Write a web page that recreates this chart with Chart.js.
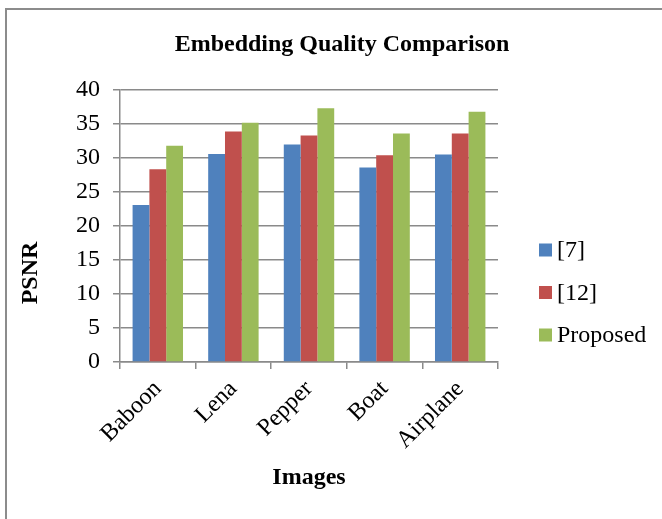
<!DOCTYPE html>
<html>
<head>
<meta charset="utf-8">
<script src="https://cdn.jsdelivr.net/npm/chart.js@4/dist/chart.umd.min.js"></script>
<style>
  html, body { margin: 0; padding: 0; background: #ffffff; }
  #wrap { position: relative; width: 662px; height: 519px; }
  canvas { display: block; }
</style>
</head>
<body>
<div id="wrap"><canvas id="chart" width="662" height="519"></canvas></div>
<script>
// Test images and PSNR (dB) of each embedding scheme
const images = ['Baboon', 'Lena', 'Pepper', 'Boat', 'Airplane'];
const ref7 = [23.1, 30.6, 32.0, 28.6, 30.5];
const ref12 = [28.35, 33.9, 33.3, 30.4, 33.6];
const proposed = [31.8, 35.2, 37.3, 33.6, 36.8];
const seriesNames = ['[7]', '[12]', 'Proposed'];
const yTicks = [0, 5, 10, 15, 20, 25, 30, 35, 40];

const chartTitle = 'Embedding Quality Comparison';
const xTitle = 'Images';
const yTitle = 'PSNR';

const SERIF = '"Liberation Serif", "Times New Roman", Times, serif';
const GRID = '#8a8a8a';
const colors = ['#4F81BD', '#C0504D', '#9BBB59'];

// Frame, titles and a right-hand legend drawn around the plot area
const decorations = {
  id: 'decorations',
  beforeDraw(chart) {
    const ctx = chart.ctx;
    ctx.save();
    ctx.strokeStyle = '#8c8c8c';
    ctx.lineWidth = 2;
    ctx.beginPath();
    ctx.moveTo(6, 519);
    ctx.lineTo(6, 9);
    ctx.lineTo(662, 9);
    ctx.stroke();
    ctx.restore();
  },
  afterDraw(chart) {
    const ctx = chart.ctx;
    const area = chart.chartArea;
    ctx.save();
    ctx.fillStyle = '#000000';
    ctx.textBaseline = 'middle';

    ctx.font = 'bold 24px ' + SERIF;
    ctx.textAlign = 'center';
    ctx.fillText(chartTitle, 342, 45);

    ctx.fillText(xTitle, (area.left + area.right) / 2, 478);

    ctx.save();
    ctx.translate(31, 273);
    ctx.rotate(-Math.PI / 2);
    ctx.fillText(yTitle, 0, 0);
    ctx.restore();

    // legend
    ctx.font = '24px ' + SERIF;
    ctx.textAlign = 'left';
    chart.data.datasets.forEach((ds, i) => {
      const cy = 250 + i * 42.5;
      const bx = area.right + 41;
      ctx.fillStyle = ds.backgroundColor;
      ctx.fillRect(bx, cy - 6.5, 13, 13);
      ctx.fillStyle = '#000000';
      ctx.fillText(ds.label, bx + 18, cy + 1);
    });
    ctx.restore();
  }
};

new Chart(document.getElementById('chart'), {
  type: 'bar',
  data: {
    labels: images,
    datasets: [
      { label: seriesNames[0], data: ref7, backgroundColor: colors[0] },
      { label: seriesNames[1], data: ref12, backgroundColor: colors[1] },
      { label: seriesNames[2], data: proposed, backgroundColor: colors[2] }
    ]
  },
  options: {
    responsive: false,
    animation: false,
    devicePixelRatio: 1,
    layout: { padding: { top: 90, left: 0, right: 164, bottom: 0 } },
    datasets: {
      bar: { categoryPercentage: 0.667, barPercentage: 1.0, borderWidth: 0 }
    },
    plugins: {
      legend: { display: false },
      title: { display: false },
      tooltip: { enabled: false }
    },
    scales: {
      x: {
        afterFit(scale) { scale.height = 157; },
        grid: {
          display: true,
          offset: true,
          drawOnChartArea: false,
          drawTicks: true,
          tickLength: 7,
          color: GRID,
          lineWidth: 1.5
        },
        border: { display: true, color: GRID, width: 1.5 },
        ticks: {
          color: '#000000',
          font: { family: SERIF, size: 24 },
          maxRotation: 45,
          minRotation: 45,
          padding: 6
        }
      },
      y: {
        min: 0,
        max: 40,
        afterFit(scale) { scale.width = 120; },
        afterBuildTicks(scale) { scale.ticks = yTicks.map(v => ({ value: v })); },
        grid: {
          color: GRID,
          lineWidth: 1.5,
          drawTicks: true,
          tickLength: 7
        },
        border: { display: true, color: GRID, width: 1.5 },
        ticks: {
          color: '#000000',
          font: { family: SERIF, size: 24 },
          padding: 13
        }
      }
    }
  },
  plugins: [decorations]
});
</script>
</body>
</html>
